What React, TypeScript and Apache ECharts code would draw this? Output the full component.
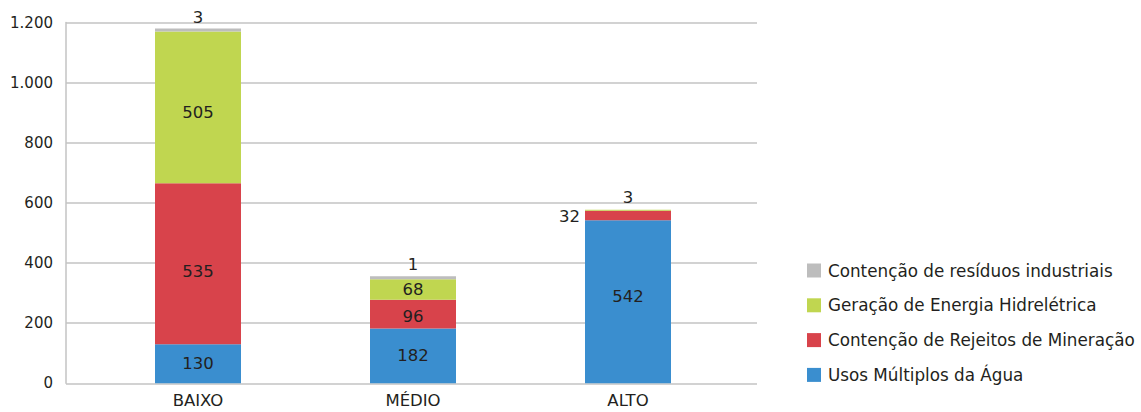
import React, { useEffect, useRef } from "react";
import * as echarts from "echarts";

const categories = ["BAIXO", "MÉDIO", "ALTO"];
const usosMultiplos = [130, 182, 542];
const rejeitosMineracao = [535, 96, 32];
const energiaHidreletrica = [505, 68, 3];
const residuosIndustriais = [3, 1, 0];
const yTicks = [0, 200, 400, 600, 800, 1000, 1200];

const FONT = "DejaVu Sans";
const TEXT = "#231f20";
const GRID = "#c3c3c3";

export default function App() {
  const ref = useRef<HTMLDivElement>(null);
  useEffect(() => {
    if (!ref.current) return;
    const chart = echarts.init(ref.current, undefined, { renderer: "svg" });
    const yMax = yTicks[yTicks.length - 1];
    const step = yTicks[1] - yTicks[0];
    const fmt = (v: number) => String(v).replace(/\B(?=(\d{3})+(?!\d))/g, ".");
    const lbl = (pos: string, dy = 0, dist = 5) => ({
      show: true,
      position: pos,
      color: TEXT,
      fontFamily: FONT,
      fontSize: 16.5,
      distance: dist,
      offset: [0, dy],
    });
    chart.setOption({
      animation: false,
      textStyle: { fontFamily: FONT },
      grid: [
        { left: 66, right: 384, top: 22.5, bottom: 28.7 },
        { left: 90.5, right: 405.5, top: 22.5, bottom: 28.7 },
      ],
      legend: {
        orient: "vertical",
        left: 802,
        top: 257,
        itemWidth: 14,
        itemHeight: 14,
        itemGap: 17.8,
        icon: "rect",
        data: [
          "Contenção de resíduos industriais",
          "Geração de Energia Hidrelétrica",
          "Contenção de Rejeitos de Mineração",
          "Usos Múltiplos da Água",
        ],
        textStyle: { color: TEXT, fontFamily: FONT, fontSize: 16.8, padding: [0, 0, 0, 2] },
      },
      xAxis: [
        { type: "value", gridIndex: 0, min: 0, max: 1, show: false },
        {
          type: "category",
          gridIndex: 1,
          data: categories,
          axisLine: { show: false },
          axisTick: { show: false },
          axisLabel: { color: TEXT, fontFamily: FONT, fontSize: 16.5, margin: 9 },
        },
      ],
      yAxis: [
        {
          type: "value",
          gridIndex: 0,
          min: 0,
          max: yMax,
          interval: step,
          axisLine: { show: true, lineStyle: { color: GRID, width: 1.5 } },
          axisTick: { show: false },
          splitLine: { lineStyle: { color: GRID, width: 1.5 } },
          axisLabel: {
            color: TEXT,
            fontFamily: FONT,
            fontSize: 15,
            margin: 13,
            formatter: (v: number) => fmt(v),
          },
        },
        {
          type: "value",
          gridIndex: 1,
          min: 0,
          max: yMax,
          interval: step,
          show: false,
          splitLine: { show: false },
        },
      ],
      series: [
        {
          name: "Usos Múltiplos da Água",
          type: "bar",
          stack: "s",
          xAxisIndex: 1,
          yAxisIndex: 1,
          barWidth: 86,
          itemStyle: { color: "#3a8ecf" },
          label: lbl("inside"),
          data: usosMultiplos.map((v, i) =>
            i === 2 ? { value: v, label: lbl("inside", -5.5) } : v
          ),
        },
        {
          name: "Contenção de Rejeitos de Mineração",
          type: "bar",
          stack: "s",
          xAxisIndex: 1,
          yAxisIndex: 1,
          barWidth: 86,
          itemStyle: { color: "#d8434b" },
          label: lbl("inside"),
          data: rejeitosMineracao.map((v, i) =>
            i === 0
              ? { value: v, label: lbl("inside", 7.5) }
              : i === 1
              ? { value: v, label: lbl("inside", 2.5) }
              : { value: v, label: lbl("left", 1) }
          ),
        },
        {
          name: "Geração de Energia Hidrelétrica",
          type: "bar",
          stack: "s",
          xAxisIndex: 1,
          yAxisIndex: 1,
          barWidth: 86,
          itemStyle: { color: "#c0d650" },
          label: lbl("inside"),
          data: energiaHidreletrica.map((v, i) =>
            i === 0
              ? { value: v, label: lbl("inside", 5) }
              : i === 2
              ? { value: v, label: lbl("top", 0, 4) }
              : v
          ),
        },
        {
          name: "Contenção de resíduos industriais",
          type: "bar",
          stack: "s",
          xAxisIndex: 1,
          yAxisIndex: 1,
          barWidth: 86,
          barMinHeight: 3,
          itemStyle: { color: "#bdbdbd" },
          label: lbl("top", 0, 3),
          data: residuosIndustriais.map((v) =>
            v === 0 ? { value: v, label: { show: false }, itemStyle: { opacity: 0 } } : v
          ),
        },
      ],
    });
    return () => chart.dispose();
  }, []);
  return (
    <div
      ref={ref}
      style={{ position: "fixed", left: 0, top: 0, width: 1141, height: 412, background: "#fff" }}
    />
  );
}
